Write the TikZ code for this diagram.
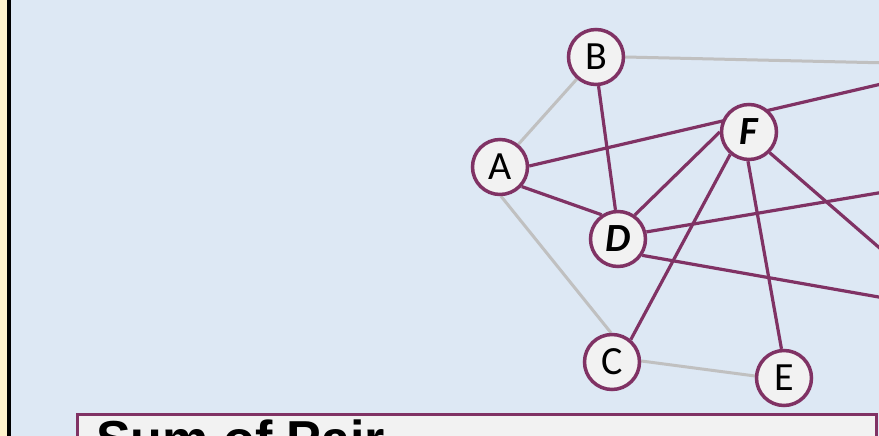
\documentclass[tikz,border=0pt]{standalone}
\usepackage{fontspec}
\setmainfont{Carlito}
\newfontfamily\arialfont{Liberation Sans}
\definecolor{bgblue}{HTML}{DDE8F4}
\definecolor{stripyellow}{HTML}{FFF2CC}
\definecolor{plum}{RGB}{128,50,100}
\definecolor{nodefill}{HTML}{F2F2F2}
\definecolor{edgegray}{HTML}{C0C0C0}
\pgfdeclarelayer{bottom}
\pgfdeclarelayer{edges}
\pgfsetlayers{bottom,edges,main}
\begin{document}
\begin{tikzpicture}[x=1pt,y=-1pt,
  vtx/.style={circle, draw=plum, fill=nodefill, line width=3.5pt,
    minimum size=55pt, inner sep=0pt, font=\fontsize{40}{40}\selectfont},
  vtxbold/.style={vtx, font=\fontsize{40}{40}\selectfont\bfseries\itshape},
  mline/.style={draw=plum, line width=3.2pt},
  gline/.style={draw=edgegray, line width=3pt},
  sumbox/.style={draw=plum, fill=nodefill, line width=2.5pt, rectangle,
    inner sep=0pt, anchor=north west},
  sumtext/.style={font=\arialfont\fontsize{52}{52}\selectfont\bfseries,
    inner sep=0pt, anchor=base west}]
\useasboundingbox (0,0) rectangle (879,436);
\clip (0,0) rectangle (879,436);
\begin{pgfonlayer}{bottom}
  \fill[stripyellow] (0,0) rectangle (9,436);
  \fill[bgblue] (9,0) rectangle (879,436);
  \draw[black, line width=4pt] (9,-5) -- (9,441);
\end{pgfonlayer}

\node[vtx] (A) at (500,167) {A};
\node[vtx] (B) at (596,57) {B};
\node[vtxbold] (F) at (749,132) {F};
\node[vtxbold] (D) at (618,239) {D};
\node[vtx] (C) at (612,362) {C};
\node[vtx] (E) at (784,378) {E};

\coordinate (bR) at (890,63);
\coordinate (aR) at (890,82);
\coordinate (d1R) at (890,191);
\coordinate (fR) at (890,257);
\coordinate (d2R) at (890,299);

\begin{pgfonlayer}{edges}
  \draw[gline] (A.51) -- (B.229);
  \draw[gline] (A.-88) -- (C.92);
  \draw[gline] (C.2) -- (E.176);
  \draw[gline] (B.0) -- (bR);
  \draw[mline] (A.2) -- (aR);
  \draw[mline] (A.-42) -- (D.124);
  \draw[mline] (B.-85) -- (D.95);
  \draw[mline] (F.180) -- (D.55);
  \draw[mline] (F.-130) -- (C.50);
  \draw[mline] (F.-92) -- (E.95);
  \draw[mline] (F.-45) -- (fR);
  \draw[mline] (D.14) -- (d1R);
  \draw[mline] (D.-34) -- (d2R);
\end{pgfonlayer}

\node[sumbox, minimum width=799pt, minimum height=60pt] (sum) at (76,413) {};
\node[sumtext] (sumlabel) at (96,457) {Sum of Pair};
\end{tikzpicture}
\end{document}
